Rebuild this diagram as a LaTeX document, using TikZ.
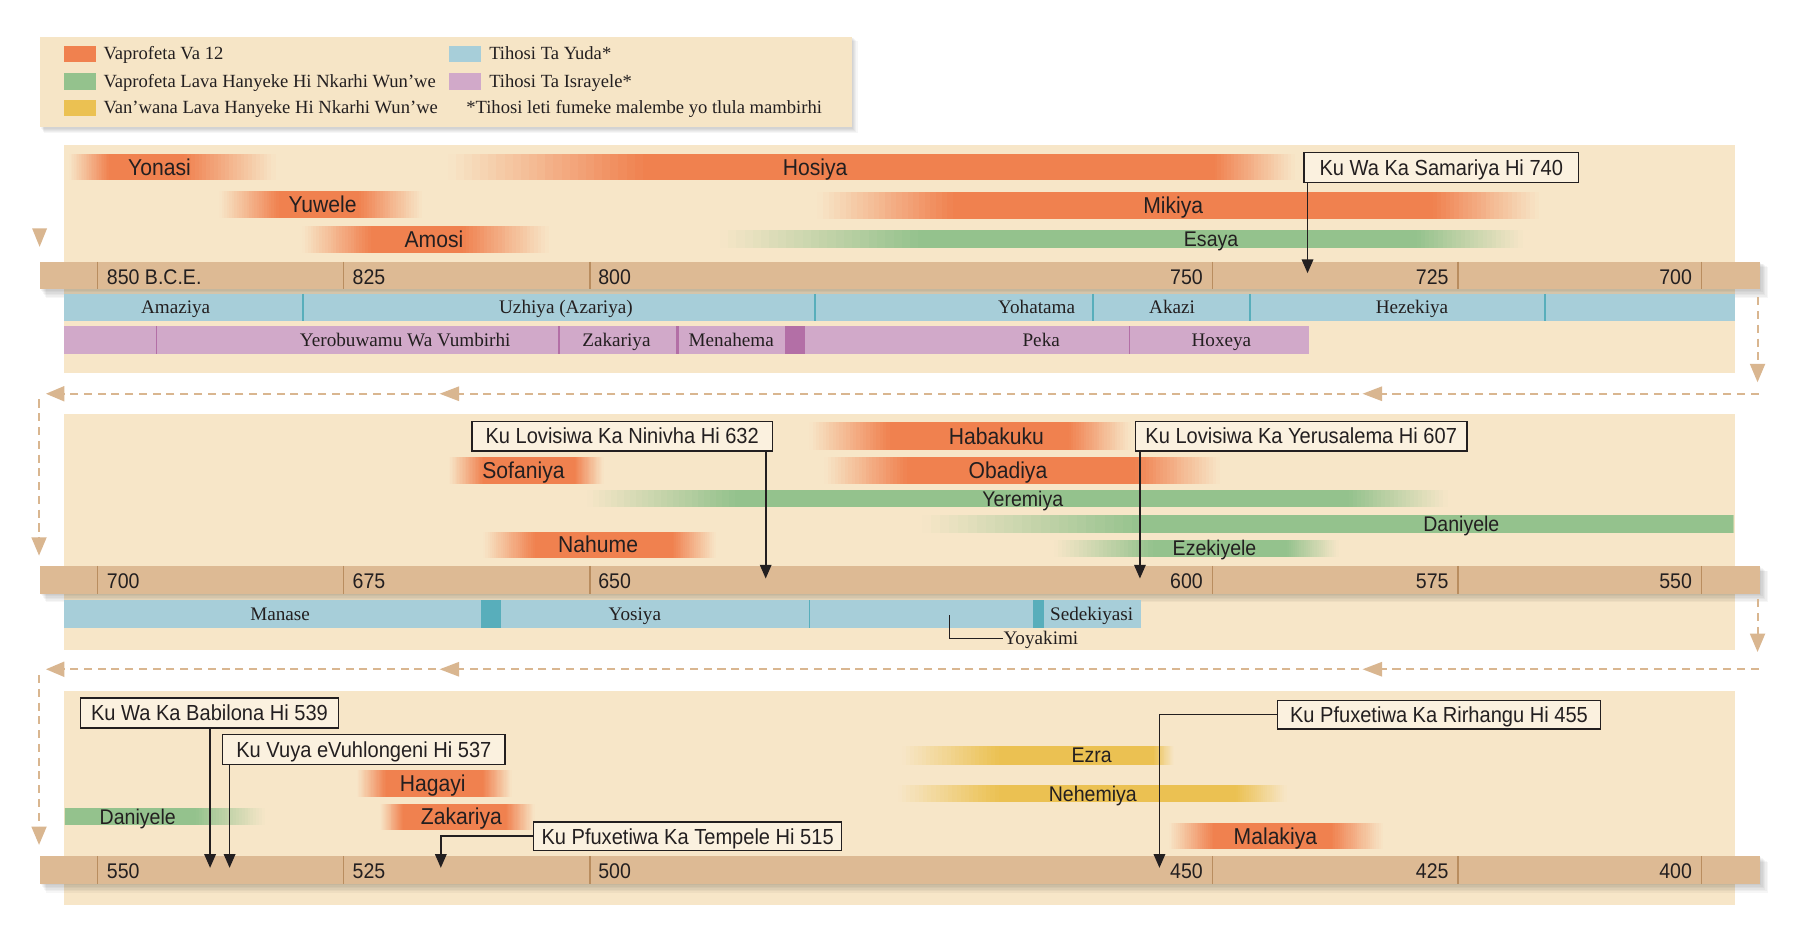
\documentclass[tikz,border=0pt]{standalone}
\usepackage{fontspec}
\setmainfont{Liberation Serif}
\newfontfamily\labf[FakeStretch=0.92]{Liberation Sans}
\usetikzlibrary{arrows.meta}
\definecolor{panelbg}{HTML}{F7E6C8}
\definecolor{legbg}{HTML}{F6E5C6}
\definecolor{boxbg}{HTML}{FBF1DF}
\definecolor{axiscol}{HTML}{DDBA94}
\definecolor{tickcol}{HTML}{B98D5F}
\definecolor{flowcol}{HTML}{D9B690}
\definecolor{orangec}{HTML}{F0814F}
\definecolor{greenc}{HTML}{94C28D}
\definecolor{yellowc}{HTML}{EBC152}
\definecolor{bluec}{HTML}{A7CED9}
\definecolor{tealc}{HTML}{58AEBB}
\definecolor{purplec}{HTML}{D1A9C9}
\definecolor{dpurple}{HTML}{B36FA6}
\definecolor{ink}{HTML}{231F20}
\tikzset{
  plab/.style={font=\labf\fontsize{20}{20}\selectfont, text=ink, inner sep=0pt, text height=14pt, text depth=0pt},
  glab/.style={font=\labf\fontsize{18.5}{18.5}\selectfont, text=ink, inner sep=0pt, text height=13pt, text depth=0pt},
  axlab/.style={font=\labf\fontsize{18.5}{18.5}\selectfont, text=ink, inner sep=0pt, text height=13pt, text depth=0pt},
  evbox/.style={draw=ink, line width=1.2pt, fill=boxbg, minimum height=26pt, inner sep=0pt,
    font=\labf\fontsize{19}{19}\selectfont, text=ink, text height=13.5pt, text depth=0pt},
  evarr/.style={draw=ink, line width=1.5pt, -{Triangle[width=10pt,length=12pt]}},
  king/.style={font=\fontsize{16.7}{17}\selectfont, text=ink, inner sep=0pt, text height=11pt, text depth=0pt},
  legtxt/.style={font=\fontsize{16.2}{16}\selectfont, text=ink, inner sep=0pt, anchor=west, text height=10.5pt, text depth=0pt},
  flow/.style={draw=flowcol, line width=1.8pt, dash pattern=on 7pt off 5pt, -{Triangle[width=13pt,length=16pt]}},
  tickline/.style={draw=tickcol, line width=1.1pt},
  jdiv/.style={draw=tealc, line width=1.2pt},
  idiv/.style={draw=dpurple, line width=1pt}
}
% fading bar: #1 colour, #2 x0, #3 x1, #4 x2, #5 x3, #6 y centre, #7 height
\newcommand{\fadebar}[7]{%
  \foreach \k in {0,...,23}{%
    \pgfmathtruncatemacro\pct{(\k+0.5)/24*100}%
    \pgfmathsetmacro\ua{#2+(#3-#2)*\k/24}%
    \pgfmathsetmacro\ub{#2+(#3-#2)*(\k+1)/24+0.4}%
    \fill[fill=#1!\pct!panelbg] (\ua,#6-#7/2) rectangle (\ub,#6+#7/2);
    \pgfmathsetmacro\va{#4+(#5-#4)*\k/24-0.4}%
    \pgfmathsetmacro\vb{#4+(#5-#4)*(\k+1)/24}%
    \pgfmathtruncatemacro\qct{100-\pct}%
    \fill[fill=#1!\qct!panelbg] (\va,#6-#7/2) rectangle (\vb,#6+#7/2);
  }%
  \fill[fill=#1] (#3,#6-#7/2) rectangle (#4,#6+#7/2);
}
\begin{document}
\begin{tikzpicture}[x=1pt,y=-1pt]
\useasboundingbox (0,0) rectangle (1568,824);
\fill[white] (0,0) rectangle (1568,824);

% ---------- legend ----------
\foreach \i in {1,...,5}{
  \fill[black, opacity=0.035] (35+\i*0.7,32+\i*0.7) rectangle (742+\i,111+\i);
}
\fill[legbg] (35,32) rectangle (742,111);
\fill[orangec] (56,40) rectangle (84,54);
\fill[greenc] (56,64) rectangle (84,78);
\fill[yellowc] (56,87) rectangle (84,101);
\fill[bluec] (391,40) rectangle (419,54);
\fill[purplec] (391,64) rectangle (419,78);
\node[legtxt] (lg1) at (90,47) {Vaprofeta Va 12};
\node[legtxt] (lg2) at (90,71) {Vaprofeta Lava Hanyeke Hi Nkarhi Wun’we};
\node[legtxt] (lg3) at (90,94) {Van’wana Lava Hanyeke Hi Nkarhi Wun’we};
\node[legtxt] (lg4) at (426,47) {Tihosi Ta Yuda*};
\node[legtxt] (lg5) at (426,71) {Tihosi Ta Israyele*};
\node[legtxt] (lg6) at (406,94) {*Tihosi leti fumeke malembe yo tlula mambirhi};

% ---------- panel backgrounds ----------
\fill[panelbg] (56,126) rectangle (1511,325);
\fill[panelbg] (56,361) rectangle (1511,566);
\fill[panelbg] (56,602) rectangle (1511,788);

% ---------- bars ----------
\foreach \nm/\col/\xa/\xb/\xc/\xd/\yy/\hh/\lx/\txt in {
  yonasi/orangec/60/95/160/240/145.5/23/139/Yonasi,
  hosiya/orangec/390/560/1058/1128/145.5/23/710/Hosiya,
  yuwele/orangec/191/243/313/368/178/23/281/Yuwele,
  mikiya/orangec/712/830/1248/1341/179/23/1022/Mikiya,
  amosi/orangec/263/323/403/478/208.5/23/378/Amosi,
  habakuku/orangec/705/775/931/985/380/24/868/Habakuku,
  sofaniya/orangec/391/421/501/526/410/24/456/Sofaniya,
  obadiya/orangec/718/790/989/1063/410/24/878/Obadiya,
  nahume/orangec/421/466/586/624/474.5/23/521/Nahume,
  hagayi/orangec/311/336/421/446/682.5/23/377/Hagayi,
  zakariya/orangec/331/351/441/466/711.5/23/402/Zakariya,
  malakiya/orangec/1018/1057/1160/1205/728.5/23/1111/Malakiya}{
  \fadebar{\col}{\xa}{\xb}{\xc}{\xd}{\yy}{\hh}
  \node[plab] (\nm) at (\lx,\yy) {\txt};
}
\foreach \nm/\col/\xa/\xb/\xc/\xd/\yy/\hh/\lx/\txt in {
  esaya/greenc/627/800/1234/1327/208/16/1055/Esaya,
  yeremiya/greenc/511/640/1175/1261/434.5/15/891/Yeremiya,
  daniyeleb/greenc/803/994/1510/1511/456.5/15/1273/Daniyele,
  ezekiyele/greenc/918/1004/1121/1166/477.5/15/1058/Ezekiyele,
  daniyelec/greenc/56/57/171/231/711.5/15/120/Daniyele,
  ezra/yellowc/786/870/1005/1023/658/16/951/Ezra,
  nehemiya/yellowc/782/870/1077/1121/691.5/15/952/Nehemiya}{
  \fadebar{\col}{\xa}{\xb}{\xc}{\xd}{\yy}{\hh}
  \node[glab] (\nm) at (\lx,\yy) {\txt};
}

% ---------- axes ----------
\foreach \T in {228,493,746}{
  \foreach \i in {1,...,6}{
    \fill[black, opacity=0.035] (35+\i*0.8,\T+\i*0.8) rectangle (1533+\i*1.2,\T+24+\i*1.3);
  }
  \fill[axiscol] (35,\T) rectangle (1533,\T+24);
  \foreach \tx in {85,299,514,1056,1270,1482}{
    \draw[tickline] (\tx,\T) -- (\tx,\T+24);
  }
}
% panel 1 labels
\node[axlab, anchor=west] (a850) at (93,241) {850 B.C.E.};
\node[axlab, anchor=west] (a825) at (307,241) {825};
\node[axlab, anchor=west] (a800) at (521,241) {800};
\node[axlab, anchor=east] (a750) at (1048,241) {750};
\node[axlab, anchor=east] (a725) at (1262,241) {725};
\node[axlab, anchor=east] (a700) at (1474,241) {700};
% panel 2 labels
\node[axlab, anchor=west] (b700) at (93,506) {700};
\node[axlab, anchor=west] (b675) at (307,506) {675};
\node[axlab, anchor=west] (b650) at (521,506) {650};
\node[axlab, anchor=east] (b600) at (1048,506) {600};
\node[axlab, anchor=east] (b575) at (1262,506) {575};
\node[axlab, anchor=east] (b550) at (1474,506) {550};
% panel 3 labels
\node[axlab, anchor=west] (c550) at (93,759) {550};
\node[axlab, anchor=west] (c525) at (307,759) {525};
\node[axlab, anchor=west] (c500) at (521,759) {500};
\node[axlab, anchor=east] (c450) at (1048,759) {450};
\node[axlab, anchor=east] (c425) at (1262,759) {425};
\node[axlab, anchor=east] (c400) at (1474,759) {400};

% ---------- kings, panel 1 ----------
\fill[bluec] (56,256) rectangle (1511,280);
\foreach \dx in {264,710,952,1089,1346}{\draw[jdiv] (\dx,256) -- (\dx,280);}
\node[king] (amaziya) at (153,268) {Amaziya};
\node[king] (uzhiya) at (493,268) {Uzhiya (Azariya)};
\node[king] (yohatama) at (903,268) {Yohatama};
\node[king] (akazi) at (1021,268) {Akazi};
\node[king] (hezekiya) at (1230,268) {Hezekiya};
\fill[purplec] (56,284) rectangle (1140,308);
\foreach \dx in {136,487,984}{\draw[idiv] (\dx,284) -- (\dx,308);}
\draw[dpurple, line width=2.5pt] (590,284) -- (590,308);
\fill[dpurple] (684,284) rectangle (701,308);
\node[king] (yerobuwamu) at (353,296) {Yerobuwamu Wa Vumbirhi};
\node[king] (zakariyak) at (537,296) {Zakariya};
\node[king] (menahema) at (637,296) {Menahema};
\node[king] (peka) at (907,296) {Peka};
\node[king] (hoxeya) at (1064,296) {Hoxeya};

% ---------- kings, panel 2 ----------
\fill[bluec] (56,523) rectangle (994,547);
\fill[tealc] (419,523) rectangle (436,547);
\draw[jdiv] (705,523) -- (705,547);
\fill[tealc] (900,523) rectangle (909,547);
\node[king] (manase) at (244,535) {Manase};
\node[king] (yosiya) at (553,535) {Yosiya};
\node[king] (sedekiyasi) at (951,535) {Sedekiyasi};
\node[king, anchor=west] (yoyakimi) at (874,556) {Yoyakimi};
\coordinate (yk) at (827,536);
\draw[ink, line width=1.1pt] (yk) |- (yoyakimi.west);

% ---------- event boxes ----------
\node[evbox, minimum width=239pt] (samariya) at (1255.5,146) {Ku Wa Ka Samariya Hi 740};
\coordinate (t740) at (1139,238);
\draw[evarr] (samariya.south -| t740) -- (t740);

\node[evbox, minimum width=262pt] (ninivha) at (542,380) {Ku Lovisiwa Ka Ninivha Hi 632};
\coordinate (t632) at (667,504);
\draw[evarr] (ninivha.south -| t632) -- (t632);

\node[evbox, minimum width=289pt] (yerusalema) at (1133.5,380) {Ku Lovisiwa Ka Yerusalema Hi 607};
\coordinate (t607) at (993,504);
\draw[evarr] (yerusalema.south -| t607) -- (t607);

\node[evbox, minimum width=225pt] (babilona) at (182.5,621) {Ku Wa Ka Babilona Hi 539};
\coordinate (t539) at (183,756);
\draw[evarr] (babilona.south -| t539) -- (t539);

\node[evbox, minimum width=246pt] (vuhlongeni) at (317,653) {Ku Vuya eVuhlongeni Hi 537};
\coordinate (t537) at (200,756);
\draw[evarr] (vuhlongeni.south -| t537) -- (t537);

\node[evbox, minimum width=268pt, minimum height=25pt] (tempele) at (599,728.5) {Ku Pfuxetiwa Ka Tempele Hi 515};
\coordinate (t515) at (384,756);
\draw[evarr] (tempele.west) -| (t515);

\node[evbox, minimum width=281pt, minimum height=25pt] (rirhangu) at (1253.5,622.5) {Ku Pfuxetiwa Ka Rirhangu Hi 455};
\coordinate (t455) at (1010,756);
\draw[evarr] (rirhangu.west) -| (t455);

% ---------- flow arrows ----------
\fill[flowcol] (28,199) -- (41,199) -- (34.5,215) -- cycle;
\coordinate (fa1) at (1531,259); \coordinate (fa2) at (1531,333);
\coordinate (fb1) at (1532,343); \coordinate (fb2) at (40,343);
\coordinate (fc1) at (34,348);   \coordinate (fc2) at (34,484);
\draw[flow] (fa1) -- (fa2);
\draw[flow] (fb1) -- (fb2);
\draw[flow] (fc1) -- (fc2);
\fill[flowcol] (383,343) -- (400,336.5) -- (400,349.5) -- cycle;
\fill[flowcol] (1187,343) -- (1204,336.5) -- (1204,349.5) -- cycle;
\coordinate (fd1) at (1531,522); \coordinate (fd2) at (1531,568);
\coordinate (fe1) at (1532,583); \coordinate (fe2) at (40,583);
\coordinate (ff1) at (34,588);   \coordinate (ff2) at (34,736);
\draw[flow] (fd1) -- (fd2);
\draw[flow] (fe1) -- (fe2);
\draw[flow] (ff1) -- (ff2);
\fill[flowcol] (383,583) -- (400,576.5) -- (400,589.5) -- cycle;
\fill[flowcol] (1187,583) -- (1204,576.5) -- (1204,589.5) -- cycle;
\end{tikzpicture}
\end{document}
